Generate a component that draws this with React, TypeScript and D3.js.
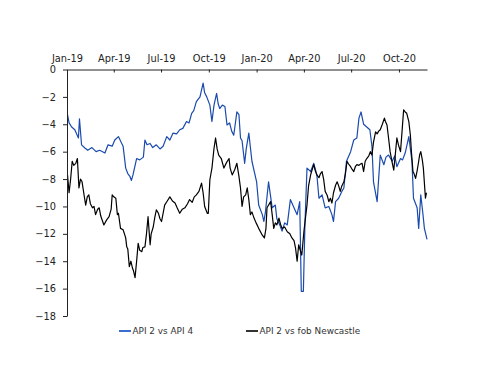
import { useEffect, useRef } from "react";
import * as d3 from "d3";

// API 2 vs API 4 (USD/t)
const api4Spread: [string, number][] = [
  ["2019-01-02", -3.3], ["2019-01-05", -3.9], ["2019-01-10", -4.2], ["2019-01-16", -4.4],
  ["2019-01-23", -5.0], ["2019-01-25", -3.6], ["2019-01-29", -5.5], ["2019-02-05", -5.75],
  ["2019-02-10", -5.9], ["2019-02-18", -5.7], ["2019-02-26", -6.0], ["2019-03-05", -5.9],
  ["2019-03-15", -6.1], ["2019-03-21", -5.5], ["2019-03-29", -5.6], ["2019-04-03", -5.15],
  ["2019-04-10", -4.9], ["2019-04-15", -5.3], ["2019-04-19", -5.6], ["2019-04-24", -7.2],
  ["2019-04-28", -7.6], ["2019-05-02", -7.8], ["2019-05-05", -8.1], ["2019-05-08", -7.7],
  ["2019-05-15", -6.5], ["2019-05-21", -6.6], ["2019-05-28", -6.4], ["2019-05-31", -5.15],
  ["2019-06-04", -5.5], ["2019-06-10", -5.4], ["2019-06-15", -5.7], ["2019-06-22", -5.5],
  ["2019-06-29", -5.8], ["2019-07-05", -5.6], ["2019-07-12", -4.9], ["2019-07-18", -5.15],
  ["2019-07-24", -4.65], ["2019-07-31", -4.7], ["2019-08-06", -4.4], ["2019-08-12", -4.3],
  ["2019-08-19", -3.8], ["2019-08-24", -3.9], ["2019-08-29", -3.2], ["2019-09-02", -3.0],
  ["2019-09-07", -2.35], ["2019-09-14", -2.0], ["2019-09-20", -1.0], ["2019-09-23", -1.7],
  ["2019-09-27", -2.0], ["2019-10-03", -2.6], ["2019-10-07", -3.8], ["2019-10-11", -2.6],
  ["2019-10-16", -1.75], ["2019-10-19", -2.5], ["2019-10-22", -2.85], ["2019-10-27", -2.6],
  ["2019-11-01", -2.7], ["2019-11-05", -4.05], ["2019-11-10", -3.9], ["2019-11-14", -4.5],
  ["2019-11-18", -4.8], ["2019-11-24", -3.1], ["2019-11-28", -3.3], ["2019-12-01", -5.0],
  ["2019-12-04", -5.2], ["2019-12-09", -6.85], ["2019-12-12", -5.8], ["2019-12-17", -4.65],
  ["2019-12-23", -6.7], ["2020-01-01", -8.2], ["2020-01-05", -9.9], ["2020-01-12", -10.6],
  ["2020-01-15", -11.1], ["2020-01-18", -10.4], ["2020-01-24", -8.2], ["2020-01-31", -10.1],
  ["2020-02-06", -9.9], ["2020-02-09", -10.9], ["2020-02-15", -11.4], ["2020-02-19", -11.8],
  ["2020-02-24", -11.2], ["2020-02-29", -11.35], ["2020-03-06", -9.5], ["2020-03-13", -10.1],
  ["2020-03-19", -10.6], ["2020-03-24", -9.65], ["2020-03-27", -16.2], ["2020-03-31", -16.2],
  ["2020-04-03", -11.35], ["2020-04-07", -7.2], ["2020-04-14", -7.45], ["2020-04-20", -6.85],
  ["2020-04-26", -7.7], ["2020-04-30", -9.4], ["2020-05-06", -9.15], ["2020-05-12", -10.1],
  ["2020-05-19", -10.0], ["2020-05-25", -10.6], ["2020-05-28", -11.1], ["2020-06-01", -9.65],
  ["2020-06-07", -9.4], ["2020-06-13", -8.9], ["2020-06-17", -8.65], ["2020-06-22", -6.7],
  ["2020-06-30", -6.0], ["2020-07-06", -5.15], ["2020-07-12", -5.0], ["2020-07-16", -3.55],
  ["2020-07-20", -3.1], ["2020-07-25", -4.0], ["2020-07-31", -4.2], ["2020-08-06", -4.4],
  ["2020-08-10", -5.6], ["2020-08-13", -8.2], ["2020-08-20", -9.65], ["2020-08-26", -6.25],
  ["2020-09-02", -6.95], ["2020-09-06", -6.4], ["2020-09-11", -6.25], ["2020-09-18", -6.7],
  ["2020-09-23", -6.3], ["2020-09-27", -7.1], ["2020-10-04", -6.5], ["2020-10-08", -6.6],
  ["2020-10-13", -6.1], ["2020-10-20", -4.9], ["2020-10-26", -6.7], ["2020-10-29", -9.4],
  ["2020-11-05", -10.1], ["2020-11-08", -11.6], ["2020-11-12", -9.15], ["2020-11-16", -10.5],
  ["2020-11-19", -11.6], ["2020-11-24", -12.4],
];

// API 2 vs fob Newcastle (USD/t)
const newcastleSpread: [string, number][] = [
  ["2019-01-02", -7.7], ["2019-01-05", -9.0], ["2019-01-08", -8.0], ["2019-01-11", -6.7],
  ["2019-01-14", -7.0], ["2019-01-18", -6.85], ["2019-01-21", -6.5], ["2019-01-24", -8.65],
  ["2019-01-27", -8.0], ["2019-01-30", -8.2], ["2019-02-03", -9.2], ["2019-02-06", -9.9],
  ["2019-02-09", -9.3], ["2019-02-12", -9.15], ["2019-02-15", -9.8], ["2019-02-19", -10.1],
  ["2019-02-22", -10.0], ["2019-02-25", -10.6], ["2019-03-01", -10.2], ["2019-03-04", -10.1],
  ["2019-03-07", -10.7], ["2019-03-13", -11.35], ["2019-03-18", -11.0], ["2019-03-23", -10.75],
  ["2019-03-27", -10.2], ["2019-03-29", -9.15], ["2019-04-01", -9.3], ["2019-04-05", -9.4],
  ["2019-04-08", -10.6], ["2019-04-10", -10.5], ["2019-04-14", -11.6], ["2019-04-19", -11.7],
  ["2019-04-24", -12.3], ["2019-04-26", -12.95], ["2019-04-28", -13.1], ["2019-05-01", -14.4],
  ["2019-05-04", -14.0], ["2019-05-07", -14.5], ["2019-05-09", -14.7], ["2019-05-12", -15.2],
  ["2019-05-15", -14.0], ["2019-05-18", -12.7], ["2019-05-21", -13.2], ["2019-05-25", -13.3],
  ["2019-05-27", -13.0], ["2019-05-31", -12.95], ["2019-06-03", -12.0], ["2019-06-06", -10.75],
  ["2019-06-10", -12.8], ["2019-06-12", -12.0], ["2019-06-16", -11.5], ["2019-06-19", -10.8],
  ["2019-06-22", -10.25], ["2019-06-26", -10.5], ["2019-06-29", -10.9], ["2019-07-02", -11.1],
  ["2019-07-06", -10.3], ["2019-07-08", -9.9], ["2019-07-13", -9.6], ["2019-07-18", -9.3],
  ["2019-07-23", -9.6], ["2019-07-28", -9.75], ["2019-08-01", -10.1], ["2019-08-06", -10.5],
  ["2019-08-11", -10.2], ["2019-08-16", -10.1], ["2019-08-21", -9.8], ["2019-08-25", -9.5],
  ["2019-08-30", -9.7], ["2019-09-03", -9.3], ["2019-09-07", -9.15], ["2019-09-12", -8.9],
  ["2019-09-17", -8.3], ["2019-09-20", -9.0], ["2019-09-23", -10.0], ["2019-09-28", -10.5],
  ["2019-09-30", -10.5], ["2019-10-03", -8.05], ["2019-10-07", -7.2], ["2019-10-11", -5.75],
  ["2019-10-14", -5.0], ["2019-10-17", -5.8], ["2019-10-20", -6.25], ["2019-10-25", -6.5],
  ["2019-10-30", -7.2], ["2019-11-04", -6.8], ["2019-11-09", -6.5], ["2019-11-11", -7.2],
  ["2019-11-15", -7.7], ["2019-11-20", -7.3], ["2019-11-24", -6.85], ["2019-11-28", -7.8],
  ["2019-12-01", -8.65], ["2019-12-04", -10.0], ["2019-12-07", -9.3], ["2019-12-11", -9.15],
  ["2019-12-14", -8.65], ["2019-12-17", -9.5], ["2019-12-20", -10.6], ["2019-12-23", -10.4],
  ["2019-12-27", -10.85], ["2019-12-31", -11.2], ["2020-01-05", -11.6], ["2020-01-12", -12.1],
  ["2020-01-16", -12.3], ["2020-01-19", -11.6], ["2020-01-21", -10.1], ["2020-01-24", -9.9],
  ["2020-01-28", -9.65], ["2020-01-31", -10.6], ["2020-02-03", -11.6], ["2020-02-06", -11.2],
  ["2020-02-09", -11.35], ["2020-02-13", -10.85], ["2020-02-16", -11.3], ["2020-02-19", -11.6],
  ["2020-02-24", -11.5], ["2020-02-29", -11.85], ["2020-03-05", -12.0], ["2020-03-09", -12.3],
  ["2020-03-13", -12.5], ["2020-03-16", -13.05], ["2020-03-19", -14.0], ["2020-03-22", -12.8],
  ["2020-03-25", -13.2], ["2020-03-28", -13.55], ["2020-04-01", -11.85], ["2020-04-04", -10.85],
  ["2020-04-07", -9.9], ["2020-04-10", -8.5], ["2020-04-14", -7.7], ["2020-04-17", -7.3],
  ["2020-04-20", -6.95], ["2020-04-23", -7.4], ["2020-04-26", -7.7], ["2020-04-30", -7.9],
  ["2020-05-03", -7.6], ["2020-05-06", -7.45], ["2020-05-09", -8.0], ["2020-05-12", -8.9],
  ["2020-05-16", -9.2], ["2020-05-19", -9.65], ["2020-05-22", -9.4], ["2020-05-25", -9.75],
  ["2020-05-28", -9.0], ["2020-06-01", -8.45], ["2020-06-04", -8.2], ["2020-06-07", -8.5],
  ["2020-06-10", -8.9], ["2020-06-13", -8.5], ["2020-06-17", -8.2], ["2020-06-20", -7.6],
  ["2020-06-23", -6.7], ["2020-06-26", -6.9], ["2020-06-30", -7.1], ["2020-07-03", -7.3],
  ["2020-07-06", -7.45], ["2020-07-09", -7.1], ["2020-07-12", -6.95], ["2020-07-16", -7.0],
  ["2020-07-19", -6.9], ["2020-07-22", -6.85], ["2020-07-25", -7.45], ["2020-07-28", -6.7],
  ["2020-07-31", -6.5], ["2020-08-04", -6.3], ["2020-08-07", -6.0], ["2020-08-10", -6.25],
  ["2020-08-13", -5.3], ["2020-08-17", -4.55], ["2020-08-20", -4.7], ["2020-08-23", -4.5],
  ["2020-08-26", -4.4], ["2020-08-30", -4.0], ["2020-09-03", -3.55], ["2020-09-05", -3.8],
  ["2020-09-08", -4.05], ["2020-09-11", -5.0], ["2020-09-14", -6.0], ["2020-09-18", -6.8],
  ["2020-09-21", -7.35], ["2020-09-24", -6.2], ["2020-09-27", -5.0], ["2020-09-30", -5.5],
  ["2020-10-04", -6.0], ["2020-10-07", -4.5], ["2020-10-10", -2.95], ["2020-10-13", -3.1],
  ["2020-10-16", -3.2], ["2020-10-20", -3.8], ["2020-10-23", -4.8], ["2020-10-25", -6.0],
  ["2020-10-28", -7.45], ["2020-10-30", -7.6], ["2020-11-02", -7.95], ["2020-11-05", -7.4],
  ["2020-11-08", -6.7], ["2020-11-10", -6.2], ["2020-11-12", -6.0], ["2020-11-15", -6.6],
  ["2020-11-17", -7.2], ["2020-11-21", -9.4], ["2020-11-23", -9.0],
];

const xTicks = ["2019-01-01", "2019-04-01", "2019-07-01", "2019-10-01", "2020-01-01", "2020-04-01", "2020-07-01", "2020-10-01"];
const yTicks = [0, -2, -4, -6, -8, -10, -12, -14, -16, -18];
const seriesNames = ["API 2 vs API 4", "API 2 vs fob Newcastle"];
const seriesColors = ["#1a4aad", "#000000"];

const parse = d3.utcParse("%Y-%m-%d");

export default function App() {
  const svgRef = useRef<SVGSVGElement>(null);
  const width = 500;
  const height = 386;
  const margin = { top: 69.5, right: 73, bottom: 70, left: 67 };

  useEffect(() => {
    const svg = d3.select(svgRef.current);
    svg.selectAll("*").remove();

    const x = d3
      .scaleUtc()
      .domain([parse("2019-01-01")!, parse("2020-11-24")!])
      .range([margin.left, width - margin.right]);

    const y = d3
      .scaleLinear()
      .domain([0, -18])
      .range([margin.top, height - margin.bottom]);

    const font = "'DejaVu Sans', sans-serif";

    // lines
    const line = d3
      .line<[string, number]>()
      .x((d) => x(parse(d[0])!))
      .y((d) => y(d[1]));

    [api4Spread, newcastleSpread].forEach((s, i) => {
      svg
        .append("path")
        .datum(s)
        .attr("fill", "none")
        .attr("stroke", seriesColors[i])
        .attr("stroke-width", 1.2)
        .attr("stroke-linejoin", "round")
        .attr("d", line);
    });

    // y axis
    const yAxis = svg
      .append("g")
      .attr("transform", `translate(${margin.left},0)`)
      .call(
        d3.axisLeft(y).tickValues(yTicks).tickSizeInner(4).tickSizeOuter(0).tickPadding(7)
          .tickFormat((d) => d3.format("d")(d as number))
      );
    yAxis.select(".domain").attr("stroke", "#222");
    yAxis.selectAll("line").attr("stroke", "#222");
    yAxis.selectAll("text").attr("font-family", font).attr("font-size", 9.8).attr("fill", "#222");

    // x axis on top (at zero)
    const xAxis = svg
      .append("g")
      .attr("transform", `translate(0,${y(0)})`)
      .call(
        d3.axisTop(x)
          .tickValues(xTicks.map((t) => parse(t)!))
          .tickSizeInner(-3)
          .tickSizeOuter(0)
          .tickPadding(7.5)
          .tickFormat((d) => d3.utcFormat("%b-%y")(d as Date))
      );
    xAxis.select(".domain").attr("stroke", "#222");
    xAxis.selectAll("line").attr("stroke", "#222");
    xAxis.selectAll("text").attr("font-family", font).attr("font-size", 9.8).attr("fill", "#222");

    // legend
    const legendX = [119, 246];
    const legend = svg.append("g").attr("transform", "translate(0,331)");
    seriesNames.forEach((name, i) => {
      legend
        .append("line")
        .attr("x1", legendX[i])
        .attr("x2", legendX[i] + 12)
        .attr("stroke", i === 0 ? "#3a6fd0" : "#333")
        .attr("stroke-width", 2);
      legend
        .append("text")
        .attr("x", legendX[i] + 13.5)
        .attr("y", 3.2)
        .attr("font-family", font)
        .attr("font-size", 8.9)
        .attr("fill", "#333")
        .text(name);
    });
  }, []);

  return (
    <svg
      ref={svgRef}
      width={width}
      height={height}
      style={{ position: "absolute", left: 0, top: 0, background: "#fff" }}
    />
  );
}
